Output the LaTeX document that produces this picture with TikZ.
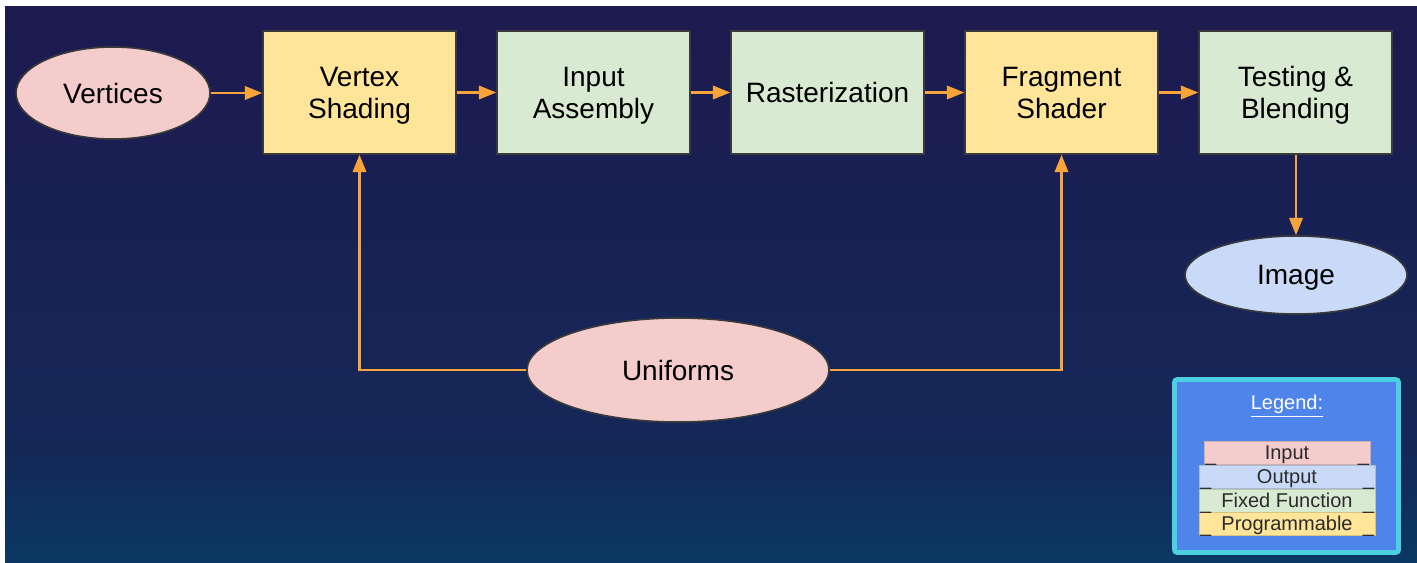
\documentclass[tikz,border=0pt]{standalone}
\usepackage{fontspec}
\setmainfont{Liberation Sans}
\usetikzlibrary{arrows.meta,shapes.geometric}

% palette
\definecolor{bgtop}{HTML}{1D1A50}
\definecolor{bgmid}{HTML}{142858}
\definecolor{bgbot}{HTML}{0A3862}
\definecolor{inpink}{HTML}{F4CCCC}
\definecolor{outblue}{HTML}{C9DAF8}
\definecolor{fixgreen}{HTML}{D9EAD3}
\definecolor{progyellow}{HTML}{FFE599}
\definecolor{edgegray}{HTML}{3A3A3A}
\definecolor{flow}{HTML}{F9A43A}
\definecolor{legcyan}{HTML}{4CCFE0}
\definecolor{legfill}{HTML}{4F84EA}
\definecolor{legtext}{HTML}{2B2B2B}

% backdrop: navy at the top, turning teal-blue near the bottom
\pgfdeclareverticalshading{backdrop}{100bp}{%
  color(0bp)=(bgbot); color(25bp)=(bgbot); color(35bp)=(bgmid);
  color(75bp)=(bgtop); color(100bp)=(bgtop)}

\tikzset{
  stage/.style={draw=edgegray, line width=1.1pt, inner sep=0pt,
    minimum width=144.75pt, minimum height=92.25pt, align=center,
    text depth=0pt, font=\fontsize{21}{24}\selectfont, text=black},
  prog/.style={stage, fill=progyellow},
  fixed/.style={stage, fill=fixgreen},
  blob/.style={ellipse, draw=edgegray, line width=1.2pt, inner sep=0pt,
    text depth=0pt, font=\fontsize{21}{24}\selectfont, text=black},
  flowarrow/.style={draw=flow, line width=1.8pt,
    -{Triangle[length=13pt,width=10pt]}},
  legrow/.style={inner sep=0pt, minimum height=17.25pt, text depth=0pt,
    font=\fontsize{15}{17}\selectfont, text=legtext},
  legmark/.style={inner sep=0pt, font=\fontsize{15}{17}\selectfont, text=legtext}
}

\begin{document}
\begin{tikzpicture}[x=0.75pt,y=-0.75pt]
  \useasboundingbox (0,0) rectangle (1417,562);
  \fill[white] (0,0) rectangle (1417,562);
  \shade[shading=backdrop] (5,6) rectangle (1417,562);

  % pipeline stages
  \node[blob, fill=inpink, minimum width=145.5pt, minimum height=69pt] (vert) at (113,93) {Vertices};
  \node[prog]  (vs)  at (359.5,92.5)  {Vertex\\Shading};
  \node[fixed] (ia)  at (593.5,92.5)  {Input\\Assembly};
  \node[fixed] (ras) at (827.5,92.5)  {Rasterization};
  \node[prog]  (fs)  at (1061.5,92.5) {Fragment\\Shader};
  \node[fixed] (tb)  at (1295.5,92.5) {Testing \&\\Blending};
  \node[blob, fill=outblue, minimum width=166.5pt, minimum height=58.5pt] (img) at (1296,275) {Image};
  \node[blob, fill=inpink, minimum width=226.5pt, minimum height=78pt] (uni) at (678,370) {Uniforms};

  % data flow
  \draw[flowarrow] (vert.east) -- (vert.east -| vs.west);
  \draw[flowarrow] (vs) -- (ia);
  \draw[flowarrow] (ia) -- (ras);
  \draw[flowarrow] (ras) -- (fs);
  \draw[flowarrow] (fs) -- (tb);
  \draw[flowarrow] (tb.south -| img.north) -- (img.north);
  \draw[flowarrow] (uni.west) -| (vs.south);
  \draw[flowarrow] (uni.east) -| (fs.south);

  % legend
  \node[draw=legcyan, fill=legfill, line width=3.5pt, rounded corners=2pt,
        minimum width=168pt, minimum height=129.75pt, inner sep=0pt] (legend) at (1286.5,466) {};
  \node[legmark, text=white] (legtitle) at (1287,406) {\underline{Legend:}};
  \node[legrow, fill=inpink, draw=inpink!85!black, line width=0.4pt, minimum width=124.5pt] (lin) at (1287,452.5) {Input};
  \node[legrow, fill=outblue, draw=outblue!85!black, line width=0.4pt, minimum width=132pt] (lout) at (1287,476.5) {Output};
  \node[legrow, fill=fixgreen, draw=fixgreen!85!black, line width=0.4pt, minimum width=132pt] (lfix) at (1287,500.5) {Fixed Function};
  \node[legrow, fill=progyellow, draw=progyellow!85!black, line width=0.4pt, minimum width=132pt] (lprog) at (1287,523.5) {Programmable};
  \foreach \r in {lin,lout,lfix,lprog}{
    \node[legmark, anchor=south west] (\r-l) at ([xshift=0.75pt,yshift=-1pt]\r.south west) {\_};
    \node[legmark, anchor=south east] (\r-r) at ([xshift=-0.75pt,yshift=-1pt]\r.south east) {\_};
  }
\end{tikzpicture}
\end{document}
